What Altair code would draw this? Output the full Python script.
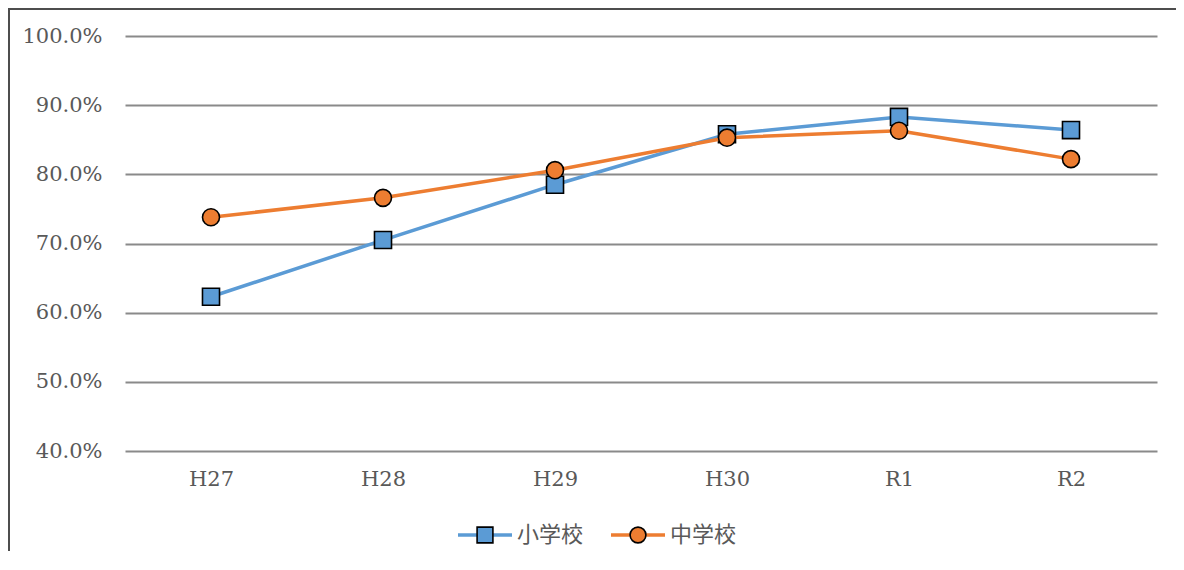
import altair as alt
import pandas as pd

years = ["H27", "H28", "H29", "H30", "R1", "R2"]
series_names = ["小学校", "中学校"]
elementary = [0.623, 0.705, 0.785, 0.858, 0.883, 0.864]
junior_high = [0.738, 0.766, 0.806, 0.853, 0.863, 0.822]
y_ticks = [0.4, 0.5, 0.6, 0.7, 0.8, 0.9, 1.0]

colors = ["#5B9BD5", "#ED7D31"]
shapes = ["square", "circle"]

rows = []
for s, vals in zip(series_names, [elementary, junior_high]):
    for yr, v in zip(years, vals):
        rows.append({"year": yr, "series": s, "value": v})
df = pd.DataFrame(rows)

W, H = 1032, 415
PAD_L, PAD_T, PAD_R, PAD_B = 117, 28, 19, 100
AXIS_FONT = "DejaVu Serif"
CJK_FONT = "Noto Sans CJK JP"
TXT = "#595959"

x_enc = alt.X("year:N", sort=years, scale=alt.Scale(padding=0.5),
              axis=alt.Axis(title=None, labelAngle=0, domain=False, ticks=False, grid=False,
                            labelFont=AXIS_FONT, labelFontSize=21, labelColor=TXT,
                            labelPadding=17))
y_enc = alt.Y("value:Q", scale=alt.Scale(domain=[0.4, 1.0], nice=False, zero=False),
              axis=alt.Axis(title=None, values=y_ticks, format=".1%", domain=False, ticks=False,
                            grid=True, gridColor="#8A8A8A", gridWidth=2,
                            labelFont=AXIS_FONT, labelFontSize=21, labelColor=TXT,
                            labelPadding=23))
col_scale = alt.Scale(domain=series_names, range=colors)
shape_scale = alt.Scale(domain=series_names, range=shapes)

base = alt.Chart(df)
lines = base.mark_line(strokeWidth=3.5).encode(
    x=x_enc, y=y_enc,
    color=alt.Color("series:N", scale=col_scale, legend=None),
    detail="series:N",
)
points = base.mark_point(filled=True, size=290, stroke="black", strokeWidth=1.6, opacity=1).encode(
    x=x_enc, y=y_enc,
    fill=alt.Fill("series:N", scale=col_scale, legend=None),
    shape=alt.Shape("series:N", scale=shape_scale, legend=None),
)

layers = []
for s in series_names:
    layers.append(lines.transform_filter(alt.datum.series == s))
    layers.append(points.transform_filter(alt.datum.series == s))

# manual legend (bottom centre)
one = pd.DataFrame({"k": [0]})
leg_y = 499
leg_x0 = [333, 486]
for i, s in enumerate(series_names):
    lx = leg_x0[i]
    layers.append(alt.Chart(one).mark_rule(color=colors[i], strokeWidth=3.5).encode(
        x=alt.value(lx), x2=alt.value(lx + 54), y=alt.value(leg_y)))
    layers.append(alt.Chart(one).mark_point(filled=True, shape=shapes[i], size=250, fill=colors[i],
                                            stroke="black", strokeWidth=1.6, opacity=1).encode(
        x=alt.value(lx + 27), y=alt.value(leg_y)))
    layers.append(alt.Chart(one).mark_text(text=s, align="left", baseline="middle", font=CJK_FONT,
                                           fontSize=22, color=TXT).encode(
        x=alt.value(lx + 59), y=alt.value(leg_y)))

# outer frame (top and left edges)
layers.append(alt.Chart(one).mark_rule(color="#4D4D4D", strokeWidth=2).encode(
    x=alt.value(-PAD_L), x2=alt.value(W + PAD_R), y=alt.value(-PAD_T + 1)))
layers.append(alt.Chart(one).mark_rule(color="#4D4D4D", strokeWidth=2).encode(
    x=alt.value(-PAD_L + 1), y=alt.value(-PAD_T), y2=alt.value(H + PAD_B)))

chart = alt.layer(*layers).properties(
    width=W, height=H,
    padding={"left": PAD_L, "top": PAD_T, "right": PAD_R, "bottom": PAD_B},
    autosize=alt.AutoSizeParams(type="none"),
    background="white",
).configure_view(strokeWidth=0, stroke="transparent")

chart.save("out.html", embed_options={"renderer": "svg", "actions": False})
